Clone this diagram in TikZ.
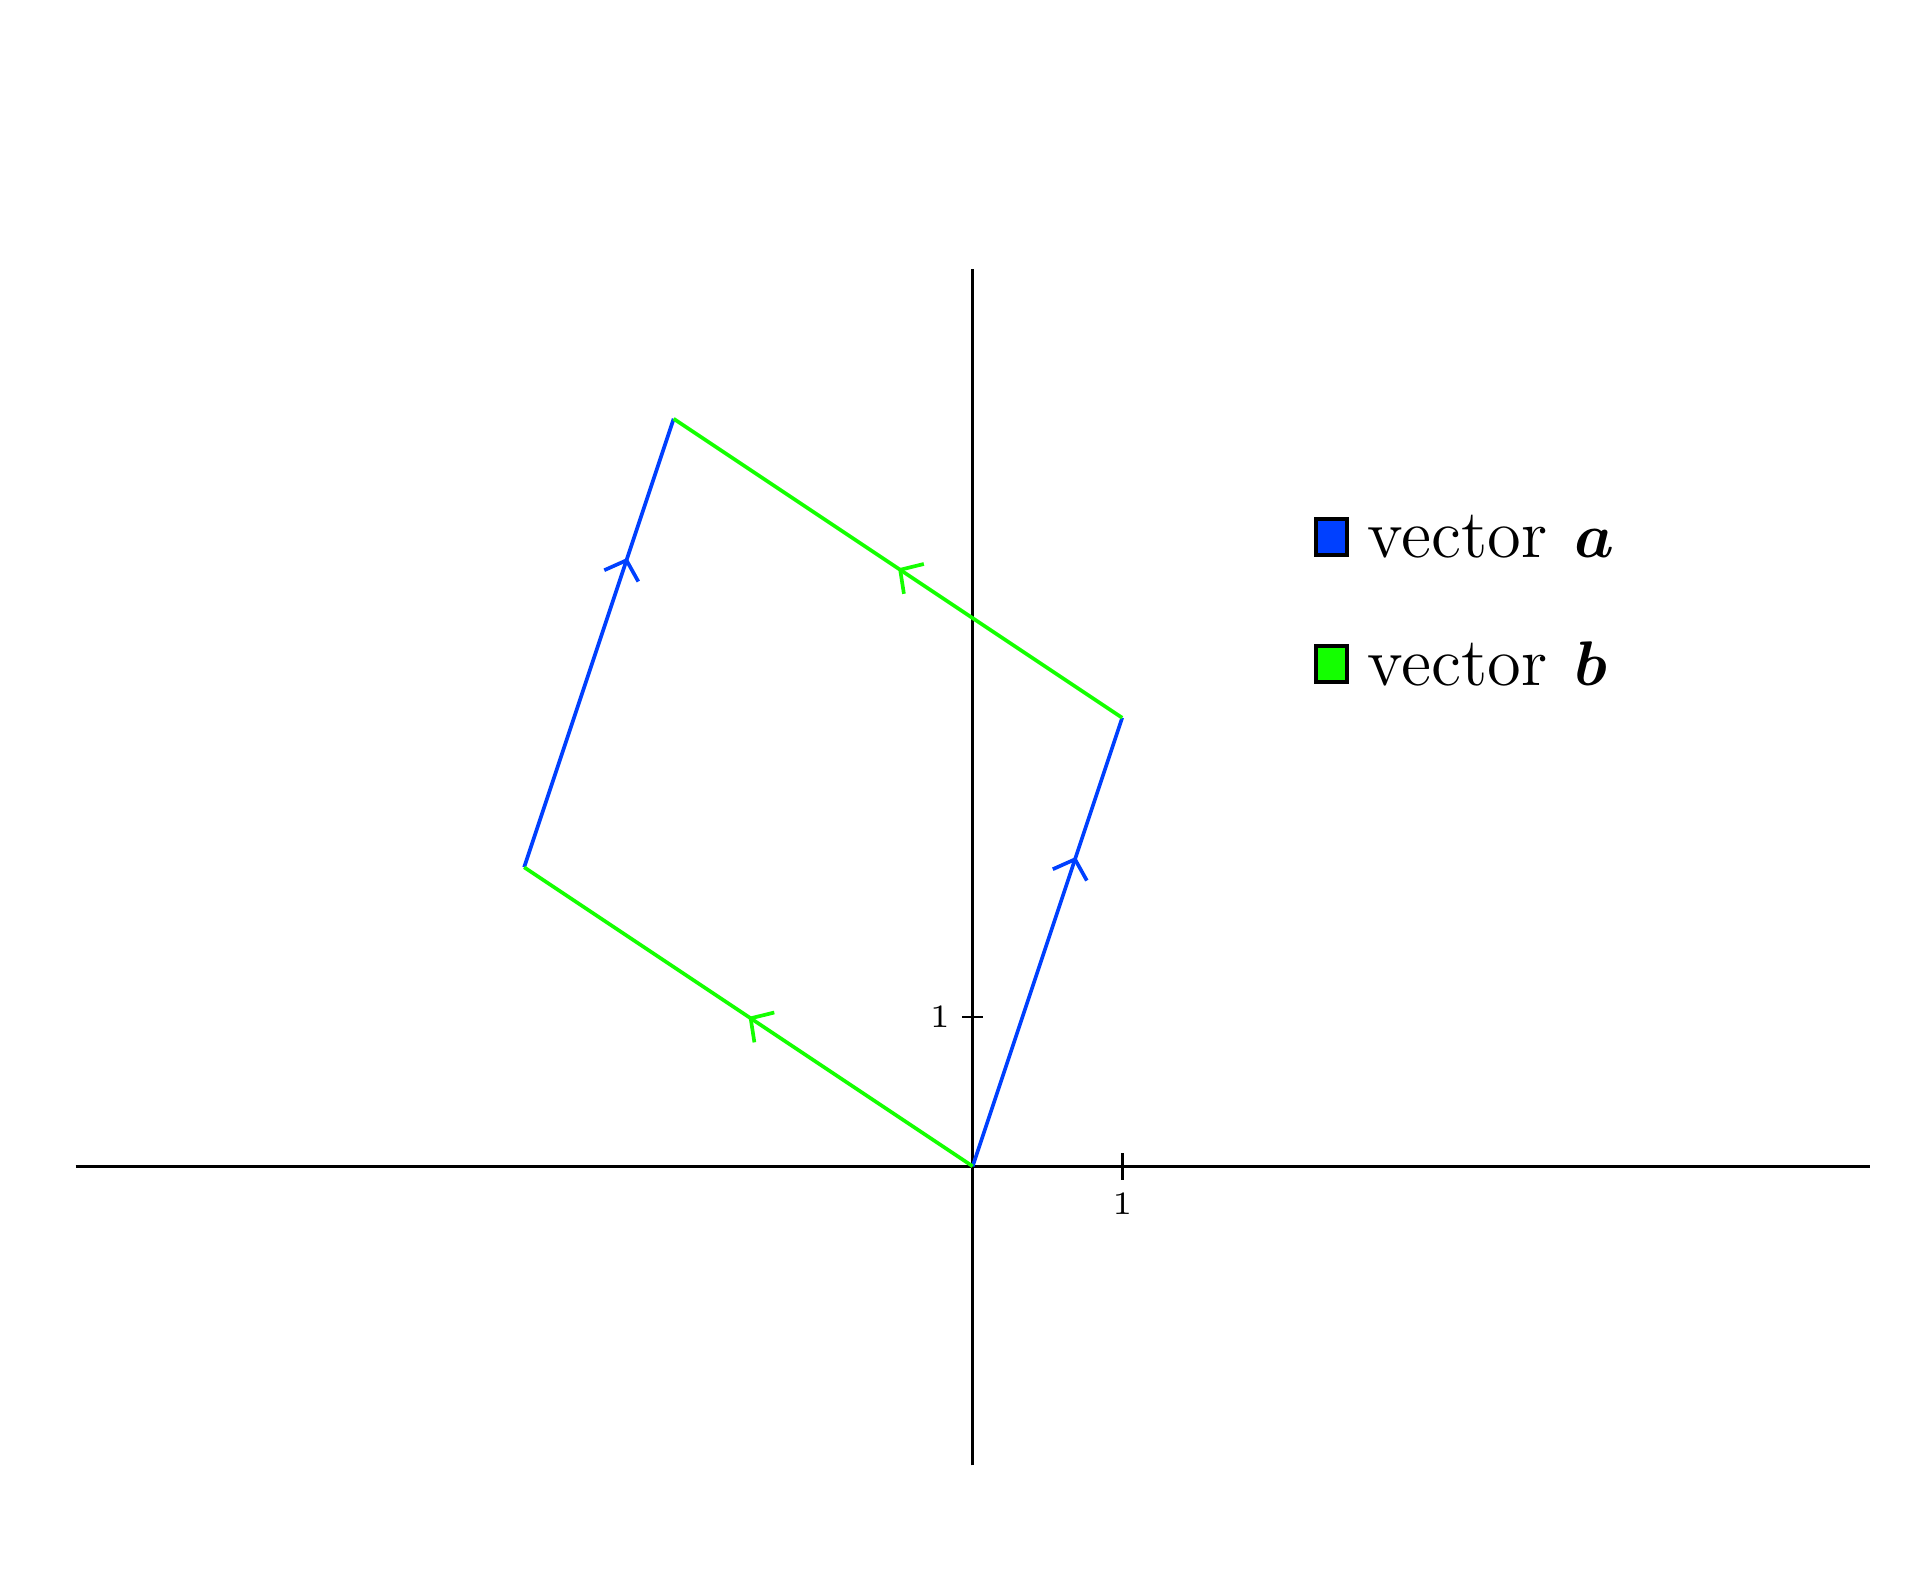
\documentclass[tikz,border=0pt]{standalone}
\usepackage{amsmath}
\usepackage{xcolor}
\usepackage{tikz}
\usetikzlibrary{arrows.meta,positioning,decorations.markings}
\definecolor{vblue}{RGB}{0,64,255}
\definecolor{vgreen}{RGB}{20,255,0}

\begin{document}
\begin{tikzpicture}[
    axis/.style={draw=black, line width=0.5pt},
    tick/.style={draw=black, line width=0.5pt},
    ticklabel/.style={font=\fontsize{6.2}{7}\selectfont, inner sep=0pt},
    midarrow/.style={postaction={decorate}, decoration={markings,
                     mark=at position #1 with {\arrow{Straight Barb[length=1.1mm,width=2.4mm]}}}},
    veca/.style={draw=vblue, line width=0.7pt, midarrow=0.69},
    vecb/.style={draw=vgreen, line width=0.7pt, midarrow=0.5},
    legbox/.style={rectangle, draw=black, line width=0.7pt,
                   minimum width=5.8pt, minimum height=6.8pt, inner sep=0pt},
    legtext/.style={font=\fontsize{13.1}{15}\selectfont, inner sep=0pt},
]
\useasboundingbox (-6.506,-2.694) rectangle (6.343,7.801);

% axes
\coordinate (xmin) at (-6,0);
\coordinate (xmax) at (6,0);
\coordinate (ymin) at (0,-2);
\coordinate (ymax) at (0,6);
\draw[axis] (xmin) -- (xmax);
\draw[axis] (ymin) -- (ymax);

% ticks
\draw[tick] (1,-0.09) -- (1,0.09);
\draw[tick] (-0.07,1) -- (0.07,1);
\node[ticklabel] (xone) at (1,-0.25) {1};
\node[ticklabel] (yone) at (-0.22,1) {1};

% parallelogram
\coordinate (O) at (0,0);
\coordinate (A) at (1,3);
\coordinate (B) at (-3,2);
\coordinate (AB) at (-2,5);
\draw[veca] (O) -- (A);
\draw[veca] (B) -- (AB);
\draw[vecb] (O) -- (B);
\draw[vecb] (A) -- (AB);

% legend
\node[legbox, fill=vblue] (boxa) at (2.40,4.21) {};
\node[legtext, right=0.12cm of boxa] (texta) {vector\hspace{0.4em}$\boldsymbol{a}$};
\node[legbox, fill=vgreen] (boxb) at (2.40,3.36) {};
\node[legtext, right=0.12cm of boxb] (textb) {vector\hspace{0.4em}$\boldsymbol{b}$};

\end{tikzpicture}
\end{document}
